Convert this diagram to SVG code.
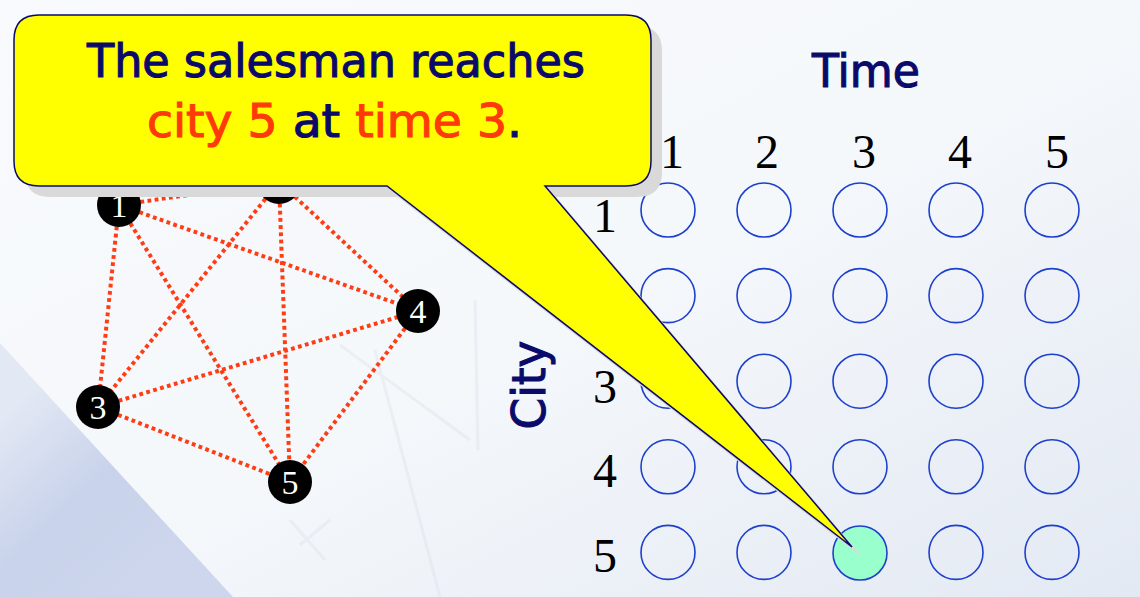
<svg xmlns="http://www.w3.org/2000/svg" width="1140" height="597" viewBox="0 0 1140 597">
<defs>
<linearGradient id="bg" x1="0" y1="0" x2="1" y2="1">
<stop offset="0" stop-color="#f8fafd"/>
<stop offset="0.5" stop-color="#f5f8fb"/>
<stop offset="1" stop-color="#e3e9f3"/>
</linearGradient>
<linearGradient id="blue" x1="0" y1="0.3" x2="0.6" y2="1">
<stop offset="0" stop-color="#e2e8f4"/>
<stop offset="0.5" stop-color="#c8d2ea"/>
<stop offset="1" stop-color="#cdd6ec"/>
</linearGradient>
<style>
.edge{fill:none;stroke:#ff3d14;stroke-width:4;stroke-dasharray:3.8 3.4}
.node circle{fill:#000}
.node text{font-family:"Liberation Serif","Times New Roman",serif;font-size:34px;fill:#fff;text-anchor:middle}
.cell{fill:none;stroke:#1d40cc;stroke-width:1.6}
.num{font-family:"Liberation Serif","Times New Roman",serif;font-size:48px;fill:#000;text-anchor:middle}
.comic{font-family:"DejaVu Sans","Liberation Sans",sans-serif;font-size:46px;fill:#0a0a6a;stroke:#0a0a6a;stroke-width:1.1}
.red{fill:#ff3a0a;stroke:#ff3a0a}
.faint{fill:none;stroke:#d0dbe7;stroke-width:3;opacity:0.3}
</style>
</defs>
<g id="background">
<rect width="1140" height="597" fill="url(#bg)"/>
<polygon points="0,343 233,597 0,597" fill="url(#blue)"/>
<path class="faint" d="M340,345 L470,440 M375,350 L440,597 M475,300 L478,450 M300,545 L330,520 M290,520 L325,560"/>
</g>
<g id="connectors">
<line class="edge" x1="119" y1="205" x2="279" y2="182"/>
<line class="edge" x1="119" y1="205" x2="98" y2="407"/>
<line class="edge" x1="119" y1="205" x2="418" y2="311"/>
<line class="edge" x1="119" y1="205" x2="290" y2="482"/>
<line class="edge" x1="279" y1="182" x2="98" y2="407"/>
<line class="edge" x1="279" y1="182" x2="418" y2="311"/>
<line class="edge" x1="279" y1="182" x2="290" y2="482"/>
<line class="edge" x1="98" y1="407" x2="418" y2="311"/>
<line class="edge" x1="98" y1="407" x2="290" y2="482"/>
<line class="edge" x1="418" y1="311" x2="290" y2="482"/>
</g>
<g id="node1" class="node"><circle cx="119" cy="205" r="22"/><text x="119" y="217">1</text></g>
<g id="node2" class="node"><circle cx="279" cy="182" r="22"/><text x="279" y="194">2</text></g>
<g id="node3" class="node"><circle cx="98" cy="407" r="22"/><text x="98" y="419">3</text></g>
<g id="node4" class="node"><circle cx="418" cy="311" r="22"/><text x="418" y="323">4</text></g>
<g id="node5" class="node"><circle cx="290" cy="482" r="22"/><text x="290" y="494">5</text></g>
<g id="axis-labels">
<text class="comic" x="812" y="87" textLength="108" lengthAdjust="spacingAndGlyphs">Time</text>
<text class="comic" transform="translate(545,385) rotate(-90)" x="0" y="0" text-anchor="middle" textLength="89" lengthAdjust="spacingAndGlyphs">City</text>
<text class="num" x="672" y="168">1</text>
<text class="num" x="767" y="168">2</text>
<text class="num" x="864" y="168">3</text>
<text class="num" x="960" y="168">4</text>
<text class="num" x="1057" y="168">5</text>
<text class="num" x="605" y="232">1</text>
<text class="num" x="605" y="317">2</text>
<text class="num" x="605" y="403">3</text>
<text class="num" x="605" y="487">4</text>
<text class="num" x="605" y="572">5</text>
</g>
<g id="grid">
<circle class="cell" cx="668" cy="210" r="27"/><circle class="cell" cx="764" cy="210" r="27"/><circle class="cell" cx="860" cy="210" r="27"/><circle class="cell" cx="956" cy="210" r="27"/><circle class="cell" cx="1052" cy="210" r="27"/>
<circle class="cell" cx="668" cy="295.6" r="27"/><circle class="cell" cx="764" cy="295.6" r="27"/><circle class="cell" cx="860" cy="295.6" r="27"/><circle class="cell" cx="956" cy="295.6" r="27"/><circle class="cell" cx="1052" cy="295.6" r="27"/>
<circle class="cell" cx="668" cy="381.2" r="27"/><circle class="cell" cx="764" cy="381.2" r="27"/><circle class="cell" cx="860" cy="381.2" r="27"/><circle class="cell" cx="956" cy="381.2" r="27"/><circle class="cell" cx="1052" cy="381.2" r="27"/>
<circle class="cell" cx="668" cy="466.8" r="27"/><circle class="cell" cx="764" cy="466.8" r="27"/><circle class="cell" cx="860" cy="466.8" r="27"/><circle class="cell" cx="956" cy="466.8" r="27"/><circle class="cell" cx="1052" cy="466.8" r="27"/>
<circle class="cell" cx="668" cy="552.4" r="27"/><circle class="cell" cx="764" cy="552.4" r="27"/><circle class="cell" cx="860" cy="553" r="27" style="fill:#99ffcc"/><circle class="cell" cx="956" cy="552.4" r="27"/><circle class="cell" cx="1052" cy="552.4" r="27"/>
</g>
<g id="callout">
<path transform="translate(11,11)" fill="#d9d9d9" d="M39,15 H626 Q651,15 651,40 V161 Q651,186 626,186 H545 L852,547 L387,186 H39 Q14,186 14,161 V40 Q14,15 39,15 Z"/>
<path fill="#ffff00" stroke="#0a0a6a" stroke-width="1.5" stroke-linejoin="miter" d="M39,15 H626 Q651,15 651,40 V161 Q651,186 626,186 H545 L852,547 L387,186 H39 Q14,186 14,161 V40 Q14,15 39,15 Z"/>
<text class="comic" x="87" y="77" textLength="498" lengthAdjust="spacingAndGlyphs">The salesman reaches</text>
<text class="comic" x="147" y="137" textLength="375" lengthAdjust="spacingAndGlyphs"><tspan class="red">city 5</tspan> at <tspan class="red">time 3</tspan>.</text>
</g>
</svg>
